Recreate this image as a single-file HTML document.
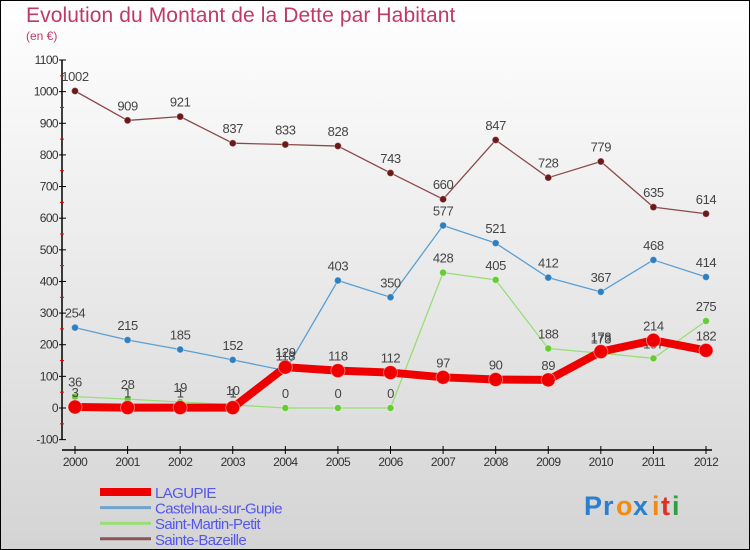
<!DOCTYPE html>
<html><head><meta charset="utf-8"><style>
html,body{margin:0;padding:0}
body{width:750px;height:550px;overflow:hidden}
svg{display:block;font-family:"Liberation Sans",sans-serif}
</style></head><body>
<svg id="chart" width="750" height="550" xmlns="http://www.w3.org/2000/svg">
<defs><linearGradient id="bg" x1="0" y1="0" x2="0" y2="1"><stop offset="0" stop-color="#ffffff"/><stop offset="1" stop-color="#d4d4d4"/></linearGradient></defs>
<rect x="0.5" y="0.5" width="749" height="549" fill="url(#bg)" stroke="#000"/>
<text x="26" y="22" font-size="21" fill="#c0386a" letter-spacing="0.1">Evolution du Montant de la Dette par Habitant</text>
<text x="26" y="40" font-size="12" fill="#c0386a">(en €)</text>
<g id="axes"></g><g id="series"></g><g id="legend"></g>
<g font-size="27" font-weight="bold">
<text x="584" y="515" fill="#2a7fd0">P</text><text x="603" y="515" fill="#2a7fd0">r</text><text x="616" y="515" fill="#f08a10">o</text><text x="633" y="515" fill="#2a7fd0">x</text><text x="652" y="515" fill="#f08a10">i</text><text x="661" y="515" fill="#e03020">t</text><text x="672" y="515" fill="#30a040">i</text>
</g>
</svg>
<script>
const years=[2000,2001,2002,2003,2004,2005,2006,2007,2008,2009,2010,2011,2012];
const yTicks=[-100,0,100,200,300,400,500,600,700,800,900,1000,1100];
const lagupie=[3,1,1,1,129,118,112,97,90,89,178,214,182];
const castelnau=[254,215,185,152,118,403,350,577,521,412,367,468,414];
const saintMartin=[36,28,19,10,0,0,0,428,405,188,173,157,275];
const sainteBazeille=[1002,909,921,837,833,828,743,660,847,728,779,635,614];
const names=["LAGUPIE","Castelnau-sur-Gupie","Saint-Martin-Petit","Sainte-Bazeille"];
const NS="http://www.w3.org/2000/svg";
const X=i=>75+i*(706-75)/12;
const Y=v=>408-v*(408-60)/1100;
function mk(tag,attrs,parent,text){const e=document.createElementNS(NS,tag);for(const k in attrs)e.setAttribute(k,attrs[k]);if(text!==undefined)e.textContent=text;parent.appendChild(e);return e;}
const ax=document.getElementById('axes');
let e=mk('line',{x1:62,y1:Y(1100),x2:62,y2:Y(-100),stroke:'#000','stroke-width':1.5},ax);


e=mk('line',{x1:62,y1:450,x2:712,y2:450,stroke:'#000','stroke-width':1.5},ax);


yTicks.forEach((t,i)=>{
 mk('line',{x1:59,y1:Y(t),x2:66,y2:Y(t),stroke:'#000'},ax);
 e=mk('text',{x:58,y:Y(t)+4,'text-anchor':'end','font-size':12,fill:'#333','letter-spacing':'-0.6'},ax,String(t));
 
 
 if(i<yTicks.length-1) mk('line',{x1:60,y1:Y(t+50),x2:64,y2:Y(t+50),stroke:'#e00'},ax);
});
years.forEach((yr,i)=>{
 mk('line',{x1:X(i),y1:446,x2:X(i),y2:454,stroke:'#000'},ax);
 e=mk('text',{x:X(i),y:466,'text-anchor':'middle','font-size':12,fill:'#333','letter-spacing':'-0.6'},ax,String(yr));
 
 
});
const sg=document.getElementById('series');
const defs=[
 {d:sainteBazeille,c:'#6b1a1a',lc:'#8b4a4a',w:1.3,r:3.5,n:'sainte-bazeille'},
 {d:saintMartin,c:'#66cc33',lc:'#99dd77',w:1.3,r:3.5,n:'saint-martin-petit'},
 {d:castelnau,c:'#2f7fc0',lc:'#5a9fd4',w:1.3,r:3.5,n:'castelnau-sur-gupie'},
 {d:lagupie,c:'#ee0000',lc:'#ee0000',w:8,r:7,n:'lagupie'}];
defs.forEach(s=>{
 const g=mk('g',{},sg);
 
 
 const l=mk('polyline',{points:s.d.map((v,i)=>X(i)+','+Y(v)).join(' '),fill:'none',stroke:s.lc,'stroke-width':s.w,'stroke-linejoin':'round'},g);
 
 
 s.d.forEach((v,i)=>{
  const c=mk('circle',{cx:X(i),cy:Y(v),r:s.r,fill:s.c,stroke:'#fff','stroke-opacity':0.4},g);
  
  
  const t=mk('text',{x:X(i),y:Y(v)-10,'text-anchor':'middle','font-size':13,fill:'#444','letter-spacing':'-0.4'},g,String(v));
  
  
 });
});
const lg=document.getElementById('legend');
const lcol=['#ee0000','#6fa4cc','#99dd77','#8b5555'];
const lw=[8,3,3,3];
names.forEach((n,i)=>{
 const y=492+i*15.6;
 let l=mk('line',{x1:100,y1:y,x2:151,y2:y,stroke:lcol[i],'stroke-width':lw[i]},lg);
 
 
 let t=mk('text',{x:155,y:y+6,'font-size':15,fill:'#5555ee','letter-spacing':'-0.6'},lg,n);
 
 
});
</script>
</body></html>
